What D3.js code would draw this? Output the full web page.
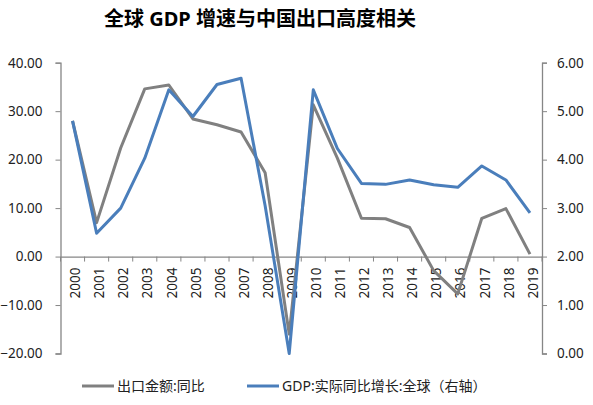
<!DOCTYPE html>
<html><head><meta charset="utf-8">
<script src="https://cdn.jsdelivr.net/npm/d3@7"></script>
<style>
body{margin:0;background:#fff;}
text{font-family:"Noto Sans","Noto Sans CJK SC",sans-serif;}
</style></head><body>
<svg id="c" width="593" height="405"></svg>
<script>
const years = ["2000","2001","2002","2003","2004","2005","2006","2007","2008","2009","2010","2011","2012","2013","2014","2015","2016","2017","2018","2019"];
const exportGrowth = [28.0,7.0,22.4,34.6,35.4,28.4,27.2,25.7,17.3,-16.0,31.3,20.3,7.9,7.8,6.0,-2.9,-7.7,7.9,9.9,0.5];
const gdpGrowth = [4.80,2.48,3.00,4.03,5.44,4.89,5.55,5.68,3.05,0.00,5.44,4.23,3.51,3.49,3.58,3.48,3.43,3.87,3.58,2.90];
const leftTicks = [-20,-10,0,10,20,30,40];
const rightTicks = [0,1,2,3,4,5,6];
const seriesNames = ["出口金额:同比","GDP:实际同比增长:全球（右轴）"];
const title = "全球 GDP 增速与中国出口高度相关";

const svg = d3.select("#c");
const L=60.5, R=542, T=62.7, B=353.5;
const x = d3.scaleBand().domain(years).range([L,R]);
const yL = d3.scaleLinear().domain([-20,40]).range([B,T]);
const yR = d3.scaleLinear().domain([0,6]).range([B,T]);
const axisColor="#868686";

svg.append("text").attr("x",260).attr("y",26).attr("text-anchor","middle")
  .attr("font-size",20).attr("font-weight","bold").attr("fill","#000").text(title);

const gl = svg.append("g").attr("transform",`translate(${L},0)`)
  .call(d3.axisLeft(yL).tickValues(leftTicks).tickFormat(d3.format(".2f")).tickSize(5).tickPadding(13));
const gr = svg.append("g").attr("transform",`translate(${R},0)`)
  .call(d3.axisRight(yR).tickValues(rightTicks).tickFormat(d3.format(".2f")).tickSize(5).tickPadding(10));
const gx = svg.append("g").attr("transform",`translate(0,${yL(0)})`)
  .call(d3.axisBottom(x).tickSize(0).tickPadding(6));
gx.selectAll(".tick text").attr("transform","rotate(-90)").attr("text-anchor","end")
  .attr("x",-11).attr("y",3).attr("dy","0.35em");
gx.selectAll(".bt").data(years.concat(["end"])).enter().append("line")
  .attr("x1",(d,i)=>L+i*x.step()).attr("x2",(d,i)=>L+i*x.step())
  .attr("y1",0).attr("y2",5).attr("stroke",axisColor);

[gl,gr,gx].forEach(g=>{
  g.selectAll(".domain").attr("stroke",axisColor).attr("stroke-width",1.3);
  g.selectAll(".tick line").attr("stroke",axisColor);
  g.selectAll(".tick text").attr("font-size",13.5).attr("fill","#222");
});

const cx = d=>x(d)+x.bandwidth()/2;
const lineL = d3.line().x((d,i)=>cx(years[i])).y(d=>yL(d));
const lineR = d3.line().x((d,i)=>cx(years[i])).y(d=>yR(d));
svg.append("path").datum(exportGrowth).attr("d",lineL).attr("fill","none")
  .attr("stroke","#808080").attr("stroke-width",3).attr("stroke-linejoin","round");
svg.append("path").datum(gdpGrowth).attr("d",lineR).attr("fill","none")
  .attr("stroke","#4a7ebb").attr("stroke-width",3).attr("stroke-linejoin","round");

const lg = svg.append("g");
const items=[{x:82,c:"#808080",t:seriesNames[0]},{x:247,c:"#4a7ebb",t:seriesNames[1]}];
items.forEach(it=>{
  lg.append("line").attr("x1",it.x).attr("x2",it.x+32).attr("y1",386).attr("y2",386)
    .attr("stroke",it.c).attr("stroke-width",3);
  lg.append("text").attr("x",it.x+35).attr("y",386).attr("dy","0.35em")
    .attr("font-size",14).attr("fill","#222").text(it.t);
});
</script></body></html>
